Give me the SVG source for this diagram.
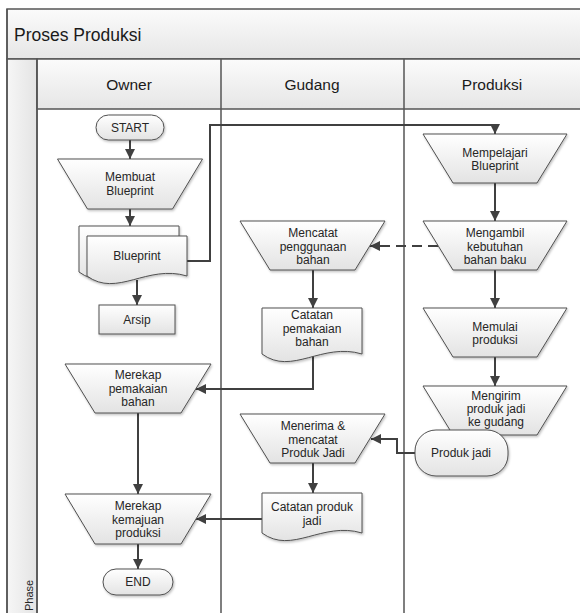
<svg xmlns="http://www.w3.org/2000/svg" width="580" height="613" viewBox="0 0 580 613">
<style>
.node{fill:url(#gn);stroke:#505050;stroke-width:1;filter:url(#sh)}
.t{font-family:"Liberation Sans",Arial,sans-serif;font-size:12px;fill:#262626;text-anchor:middle}
.h{font-family:"Liberation Sans",Arial,sans-serif;font-size:15.5px;fill:#1a1a1a;text-anchor:middle}
.c{fill:none;stroke:#404040;stroke-width:2;marker-end:url(#ah)}
.d{fill:none;stroke:#404040;stroke-width:2;stroke-dasharray:10 6;marker-end:url(#ah)}
.ln{stroke:#555;stroke-width:1.5;fill:none}
</style>
<defs>
<linearGradient id="gn" x1="0" y1="0" x2="0" y2="1"><stop offset="0" stop-color="#ffffff"/><stop offset="1" stop-color="#e3e3e3"/></linearGradient>
<linearGradient id="gb" x1="0" y1="0" x2="0" y2="1"><stop offset="0" stop-color="#fbfbfb"/><stop offset="1" stop-color="#e6e6e6"/></linearGradient>
<linearGradient id="gp" x1="0" y1="0" x2="1" y2="0"><stop offset="0" stop-color="#f6f6f6"/><stop offset="1" stop-color="#e4e4e4"/></linearGradient>
<filter id="sh" x="-10%" y="-10%" width="130%" height="140%"><feDropShadow dx="1" dy="1.5" stdDeviation="0.8" flood-color="#000" flood-opacity="0.25"/></filter>
<marker id="ah" markerUnits="userSpaceOnUse" markerWidth="11" markerHeight="11" refX="10" refY="5" orient="auto"><path d="M0,0 L10,5 L0,10 Z" fill="#404040"/></marker>
</defs>
<rect width="580" height="613" fill="#ffffff"/>
<g id="pool">
<rect x="7" y="9" width="580" height="50" fill="url(#gb)" stroke="#555" stroke-width="1.5"/>
<text x="14" y="41" font-family="Liberation Sans, Arial, sans-serif" font-size="17.5" fill="#1a1a1a">Proses Produksi</text>
<rect x="7" y="59" width="30" height="560" fill="url(#gp)" stroke="#555" stroke-width="1.5"/>
<rect x="37" y="59" width="550" height="50" fill="url(#gb)" stroke="#555" stroke-width="1.5"/>
<text class="h" x="129" y="90">Owner</text>
<text class="h" x="312" y="90">Gudang</text>
<text class="h" x="492" y="90">Produksi</text>
<path class="ln" d="M37,59 V613 M221,59 V613 M404,59 V613 M7,9 V613"/>
<text transform="translate(33,611) rotate(-90)" font-family="Liberation Sans, Arial, sans-serif" font-size="11" fill="#262626">Phase</text>
</g>
<g id="connectors">
<path class="c" d="M130,140 V159"/>
<path class="c" d="M130,209 V226"/>
<path class="c" d="M137,280 V305"/>
<path class="c" d="M187,261 H210 V125 H495 V134"/>
<path class="c" d="M495,183 V221"/>
<path class="c" d="M495,270 V308"/>
<path class="c" d="M495,357 V386"/>
<path class="d" d="M438,246 H370"/>
<path class="c" d="M313,270 V308"/>
<path class="c" d="M313,355 V389 H196"/>
<path class="c" d="M138,413 V494"/>
<path class="c" d="M415,453 H397 V439 H371"/>
<path class="c" d="M313,463 V493"/>
<path class="c" d="M262,519 H196"/>
<path class="c" d="M138,544 V569"/>
</g>
<g id="start"><rect class="node" x="96" y="115" width="68" height="25" rx="12.5"/><text class="t" x="130" y="132" font-size="11.5">START</text></g>
<g id="membuat"><path class="node" d="M57.5,159 H202.5 L172.5,209 H87.5 Z"/><text class="t" x="130" y="181">Membuat</text><text class="t" x="130" y="195">Blueprint</text></g>
<g id="blueprint"><path class="node" d="M79,226 H179 V272 C139,260 109,294 79,272 Z"/><path class="node" d="M87,236 H187 V276 C147,264 117,298 87,276 Z"/><text class="t" x="137" y="260">Blueprint</text></g>
<g id="arsip"><rect class="node" x="99" y="305" width="76" height="29"/><text class="t" x="137" y="324">Arsip</text></g>
<g id="merekap-pemakaian"><path class="node" d="M65,364 H211 L181,413 H95 Z"/><text class="t" x="138" y="379">Merekap</text><text class="t" x="138" y="393">pemakaian</text><text class="t" x="138" y="406">bahan</text></g>
<g id="merekap-kemajuan"><path class="node" d="M65,494 H211 L181,544 H95 Z"/><text class="t" x="138" y="510">Merekap</text><text class="t" x="138" y="524">kemajuan</text><text class="t" x="138" y="537">produksi</text></g>
<g id="end"><rect class="node" x="103" y="569" width="70" height="26" rx="13"/><text class="t" x="138" y="586" font-size="11.5">END</text></g>
<g id="mencatat"><path class="node" d="M240,221 H385 L355,270 H270 Z"/><text class="t" x="313" y="237">Mencatat</text><text class="t" x="313" y="251">penggunaan</text><text class="t" x="313" y="264">bahan</text></g>
<g id="catatan-pemakaian"><path class="node" d="M262,308 H362 V354 C322,342 292,376 262,354 Z"/><text class="t" x="312" y="319">Catatan</text><text class="t" x="312" y="333">pemakaian</text><text class="t" x="312" y="346">bahan</text></g>
<g id="menerima"><path class="node" d="M240,414 H385 L355,463 H270 Z"/><text class="t" x="313" y="430">Menerima &amp;</text><text class="t" x="313" y="444">mencatat</text><text class="t" x="313" y="457">Produk Jadi</text></g>
<g id="catatan-produk"><path class="node" d="M262,493 H362 V533 C322,521 292,555 262,533 Z"/><text class="t" x="312" y="511">Catatan produk</text><text class="t" x="312" y="525">jadi</text></g>
<g id="mempelajari"><path class="node" d="M423,134 H567 L537,183 H453 Z"/><text class="t" x="495" y="157">Mempelajari</text><text class="t" x="495" y="170">Blueprint</text></g>
<g id="mengambil"><path class="node" d="M423,221 H567 L537,270 H453 Z"/><text class="t" x="495" y="237">Mengambil</text><text class="t" x="495" y="251">kebutuhan</text><text class="t" x="495" y="264">bahan baku</text></g>
<g id="memulai"><path class="node" d="M423,308 H567 L537,357 H453 Z"/><text class="t" x="495" y="331">Memulai</text><text class="t" x="495" y="344">produksi</text></g>
<g id="mengirim"><path class="node" d="M423,386 H567 L537,435 H453 Z"/><text class="t" x="496" y="400">Mengirim</text><text class="t" x="496" y="413">produk jadi</text><text class="t" x="496" y="426">ke gudang</text></g>
<g id="produk-jadi"><rect class="node" x="415" y="430" width="93" height="46" rx="21"/><text class="t" x="461" y="457">Produk jadi</text></g>
</svg>
